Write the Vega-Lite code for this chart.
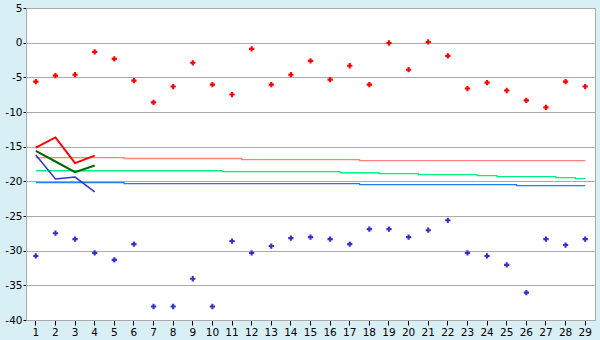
{
  "$schema": "https://vega.github.io/schema/vega-lite/v6.json",
  "width": 569,
  "height": 312,
  "autosize": "none",
  "padding": {"left": 26, "top": 8, "right": 5, "bottom": 20},
  "background": "#d9eff6",
  "config": {
    "view": {"fill": "white", "stroke": "#aaaaaa", "strokeWidth": 1},
    "font": "DejaVu Sans",
    "axis": {"labelFont": "DejaVu Sans", "labelFontSize": 10.5, "labelColor": "black", "title": null},
    "axisY": {"labelFlush": false, "labelBound": false, "labelOverlap": false, "grid": true, "gridColor": "#aaaaaa", "gridWidth": 1, "domainColor": "#aaaaaa", "tickColor": "black", "tickSize": 3, "labelPadding": 1}
  },
  "data": {
    "values": [
      {"day": 1, "hi": -5.62, "lo": -30.76, "lr": -15.14, "lg": -15.62, "lb": -16.19, "np": -16.57, "ng": -18.47, "nb": -20.19},
      {"day": 2, "hi": -4.76, "lo": -27.48, "lr": -13.67, "lg": -17.14, "lb": -19.67, "np": -16.57, "ng": -18.47, "nb": -20.19},
      {"day": 3, "hi": -4.62, "lo": -28.33, "lr": -17.38, "lg": -18.67, "lb": -19.38, "np": -16.57, "ng": -18.47, "nb": -20.19},
      {"day": 4, "hi": -1.33, "lo": -30.33, "lr": -16.29, "lg": -17.71, "lb": -21.52, "np": -16.57, "ng": -18.47, "nb": -20.19},
      {"day": 5, "hi": -2.33, "lo": -31.33, "np": -16.57, "ng": -18.47, "nb": -20.19},
      {"day": 6, "hi": -5.48, "lo": -29.05, "np": -16.71, "ng": -18.47, "nb": -20.33},
      {"day": 7, "hi": -8.62, "lo": -38.05, "np": -16.71, "ng": -18.47, "nb": -20.33},
      {"day": 8, "hi": -6.33, "lo": -38.05, "np": -16.71, "ng": -18.47, "nb": -20.33},
      {"day": 9, "hi": -2.9, "lo": -34.05, "np": -16.71, "ng": -18.47, "nb": -20.33},
      {"day": 10, "hi": -6.05, "lo": -38.05, "np": -16.71, "ng": -18.47, "nb": -20.33},
      {"day": 11, "hi": -7.48, "lo": -28.62, "np": -16.71, "ng": -18.61, "nb": -20.33},
      {"day": 12, "hi": -0.9, "lo": -30.33, "np": -16.86, "ng": -18.61, "nb": -20.33},
      {"day": 13, "hi": -6.05, "lo": -29.33, "np": -16.86, "ng": -18.61, "nb": -20.33},
      {"day": 14, "hi": -4.62, "lo": -28.19, "np": -16.86, "ng": -18.61, "nb": -20.33},
      {"day": 15, "hi": -2.62, "lo": -28.05, "np": -16.86, "ng": -18.61, "nb": -20.33},
      {"day": 16, "hi": -5.33, "lo": -28.33, "np": -16.86, "ng": -18.61, "nb": -20.33},
      {"day": 17, "hi": -3.33, "lo": -29.05, "np": -16.86, "ng": -18.76, "nb": -20.33},
      {"day": 18, "hi": -6.05, "lo": -26.9, "np": -17.0, "ng": -18.76, "nb": -20.47},
      {"day": 19, "hi": -0.05, "lo": -26.9, "np": -17.0, "ng": -18.9, "nb": -20.47},
      {"day": 20, "hi": -3.9, "lo": -28.05, "np": -17.0, "ng": -18.9, "nb": -20.47},
      {"day": 21, "hi": 0.1, "lo": -27.05, "np": -17.0, "ng": -19.04, "nb": -20.47},
      {"day": 22, "hi": -1.9, "lo": -25.62, "np": -17.0, "ng": -19.04, "nb": -20.47},
      {"day": 23, "hi": -6.62, "lo": -30.33, "np": -17.0, "ng": -19.04, "nb": -20.47},
      {"day": 24, "hi": -5.76, "lo": -30.76, "np": -17.0, "ng": -19.19, "nb": -20.47},
      {"day": 25, "hi": -6.9, "lo": -32.05, "np": -17.0, "ng": -19.33, "nb": -20.47},
      {"day": 26, "hi": -8.33, "lo": -36.05, "np": -17.0, "ng": -19.33, "nb": -20.61},
      {"day": 27, "hi": -9.33, "lo": -28.33, "np": -17.0, "ng": -19.33, "nb": -20.61},
      {"day": 28, "hi": -5.62, "lo": -29.19, "np": -17.0, "ng": -19.47, "nb": -20.61},
      {"day": 29, "hi": -6.33, "lo": -28.33, "np": -17.0, "ng": -19.61, "nb": -20.61}
    ]
  },
  "encoding": {
    "x": {
      "field": "day", "type": "ordinal",
      "scale": {"type": "band", "paddingInner": 0, "paddingOuter": 0},
      "axis": {"labelAngle": 0, "domainColor": "#aaaaaa", "tickColor": "black", "tickSize": 5, "labelPadding": 2, "grid": false, "labelOverlap": false}
    }
  },
  "layer": [
    {
      "mark": {"type": "line", "color": "#ff8080", "strokeWidth": 1.3, "interpolate": "step"},
      "encoding": {"y": {"field": "np", "type": "quantitative", "scale": {"domain": [-40, 5], "nice": false, "zero": false}, "axis": {"values": [-40, -35, -30, -25, -20, -15, -10, -5, 0, 5], "tickCount": 10, "labelExpr": "replace(datum.label, '\u2212', '-')"}}}
    },
    {
      "mark": {"type": "line", "color": "#00f080", "strokeWidth": 1.3, "interpolate": "step"},
      "encoding": {"y": {"field": "ng", "type": "quantitative", "scale": {"domain": [-40, 5], "nice": false, "zero": false}, "axis": {"values": [-40, -35, -30, -25, -20, -15, -10, -5, 0, 5], "tickCount": 10, "labelExpr": "replace(datum.label, '\u2212', '-')"}}}
    },
    {
      "mark": {"type": "line", "color": "#1a80ee", "strokeWidth": 1.3, "interpolate": "step"},
      "encoding": {"y": {"field": "nb", "type": "quantitative", "scale": {"domain": [-40, 5], "nice": false, "zero": false}, "axis": {"values": [-40, -35, -30, -25, -20, -15, -10, -5, 0, 5], "tickCount": 10, "labelExpr": "replace(datum.label, '\u2212', '-')"}}}
    },
    {
      "mark": {"type": "line", "color": "#ff0000", "strokeWidth": 2},
      "encoding": {"y": {"field": "lr", "type": "quantitative", "scale": {"domain": [-40, 5], "nice": false, "zero": false}, "axis": {"values": [-40, -35, -30, -25, -20, -15, -10, -5, 0, 5], "tickCount": 10, "labelExpr": "replace(datum.label, '\u2212', '-')"}}}
    },
    {
      "mark": {"type": "line", "color": "#006600", "strokeWidth": 2},
      "encoding": {"y": {"field": "lg", "type": "quantitative", "scale": {"domain": [-40, 5], "nice": false, "zero": false}, "axis": {"values": [-40, -35, -30, -25, -20, -15, -10, -5, 0, 5], "tickCount": 10, "labelExpr": "replace(datum.label, '\u2212', '-')"}}}
    },
    {
      "mark": {"type": "line", "color": "#3333cc", "strokeWidth": 1.5},
      "encoding": {"y": {"field": "lb", "type": "quantitative", "scale": {"domain": [-40, 5], "nice": false, "zero": false}, "axis": {"values": [-40, -35, -30, -25, -20, -15, -10, -5, 0, 5], "tickCount": 10, "labelExpr": "replace(datum.label, '\u2212', '-')"}}}
    },
    {
      "mark": {"type": "point", "shape": "cross", "filled": true, "color": "#ff0000", "size": 28, "opacity": 1},
      "encoding": {"y": {"field": "hi", "type": "quantitative", "scale": {"domain": [-40, 5], "nice": false, "zero": false}, "axis": {"values": [-40, -35, -30, -25, -20, -15, -10, -5, 0, 5], "tickCount": 10, "labelExpr": "replace(datum.label, '\u2212', '-')"}}}
    },
    {
      "mark": {"type": "point", "shape": "cross", "filled": true, "color": "#3333cc", "size": 28, "opacity": 1},
      "encoding": {"y": {"field": "lo", "type": "quantitative", "scale": {"domain": [-40, 5], "nice": false, "zero": false}, "axis": {"values": [-40, -35, -30, -25, -20, -15, -10, -5, 0, 5], "tickCount": 10, "labelExpr": "replace(datum.label, '\u2212', '-')"}}}
    }
  ]
}
